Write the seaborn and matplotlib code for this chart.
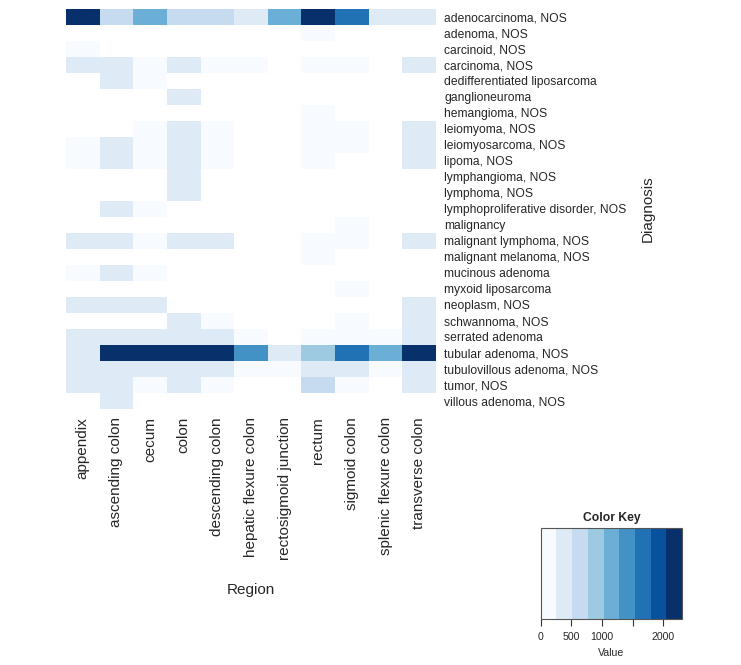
import numpy as np
import pandas as pd
import matplotlib
matplotlib.use("Agg")
import matplotlib.pyplot as plt
from matplotlib.colors import ListedColormap, BoundaryNorm
from matplotlib.cm import ScalarMappable
import seaborn as sns

N = np.nan

diagnoses = [
    "adenocarcinoma, NOS", "adenoma, NOS", "carcinoid, NOS", "carcinoma, NOS",
    "dedifferentiated liposarcoma", "ganglioneuroma", "hemangioma, NOS",
    "leiomyoma, NOS", "leiomyosarcoma, NOS", "lipoma, NOS", "lymphangioma, NOS",
    "lymphoma, NOS", "lymphoproliferative disorder, NOS", "malignancy",
    "malignant lymphoma, NOS", "malignant melanoma, NOS", "mucinous adenoma",
    "myxoid liposarcoma", "neoplasm, NOS", "schwannoma, NOS", "serrated adenoma",
    "tubular adenoma, NOS", "tubulovillous adenoma, NOS", "tumor, NOS",
    "villous adenoma, NOS",
]

regions = ["appendix", "ascending colon", "cecum", "colon", "descending colon",
           "hepatic flexure colon", "rectosigmoid junction", "rectum",
           "sigmoid colon", "splenic flexure colon", "transverse colon"]

appendix = [2260, N, 30, 300, N, N, N, N, 40, 35, N, N, N, N, 330, N, 45, N, 310, N, 320, 370, 340, 300, N]
ascending_colon = [610, N, N, 340, 280, N, N, N, 320, 310, N, N, 290, N, 350, N, 300, N, 290, N, 350, 2280, 390, 330, 280]
cecum = [1180, N, N, 60, 35, N, N, 50, 55, 45, N, N, 40, N, 50, N, 40, N, 300, N, 300, 2210, 360, 70, N]
colon = [590, N, N, 290, N, 270, N, 330, 350, 360, 300, 280, N, N, 340, N, N, N, N, 330, 380, 2300, 410, 310, N]
descending_colon = [640, N, N, 25, N, N, N, 35, 30, 40, N, N, N, N, 310, N, N, N, N, 50, 340, 2250, 380, 45, N]
hepatic_flexure_colon = [330, N, N, 20, N, N, N, N, N, N, N, N, N, N, N, N, N, N, N, N, 45, 1420, 60, N, N]
rectosigmoid_junction = [1120, N, N, N, N, N, N, N, N, N, N, N, N, N, N, N, N, N, N, N, N, 300, 50, N, N]
rectum = [2300, 45, N, 70, N, N, 40, 60, 65, 55, N, N, N, N, 60, 35, N, N, N, N, 55, 930, 420, 640, N]
sigmoid_colon = [1690, N, N, 55, N, N, N, 45, 50, N, N, N, N, 30, 45, N, N, 25, N, 40, 60, 1660, 400, 55, N]
splenic_flexure_colon = [350, N, N, N, N, N, N, N, N, N, N, N, N, N, N, N, N, N, N, N, 40, 1160, 55, N, N]
transverse_colon = [380, N, N, 310, N, N, N, 300, 290, 305, N, N, N, N, 300, N, N, N, 320, 290, 330, 2240, 370, 320, N]

key_ticks = [0, 500, 1000, 1500, 2000]
key_labels = ["0", "500", "1000", "", "2000"]

columns = [appendix, ascending_colon, cecum, colon, descending_colon,
           hepatic_flexure_colon, rectosigmoid_junction, rectum, sigmoid_colon,
           splenic_flexure_colon, transverse_colon]
df = pd.DataFrame(np.array(columns, dtype=float).T, index=diagnoses, columns=regions)

sns.set_style("white")
plt.rcParams["font.family"] = ["Liberation Sans", "DejaVu Sans"]

blues = ["#F7FBFF", "#DEEBF7", "#C6DBEF", "#9ECAE1", "#6BAED6",
         "#4292C6", "#2171B5", "#08519C", "#08306B"]
cmap = ListedColormap(blues)
bounds = np.linspace(0, 2304, 10)
norm = BoundaryNorm(bounds, cmap.N)

W, H = 741, 665
fig = plt.figure(figsize=(W / 100, H / 100), dpi=100)
ax = fig.add_axes([66 / W, 1 - 408.7 / H, 370 / W, 400 / H])

sns.heatmap(df, ax=ax, cmap=cmap, norm=norm, cbar=False, linewidths=0)
ax.set_xlabel("")
ax.set_ylabel("")
ax.yaxis.tick_right()
ax.set_yticks(np.arange(len(diagnoses)) + 0.5)
ax.set_yticklabels(diagnoses, rotation=0, fontsize=8.7, ha="left")
ax.set_xticks(np.arange(len(regions)) + 0.5)
ax.set_xticklabels(regions, rotation=90, fontsize=11)
ax.tick_params(axis="y", length=0, pad=5.8)
ax.tick_params(axis="x", length=0, pad=6)
for s in ax.spines.values():
    s.set_visible(False)

fig.text(251 / W, 1 - 590 / H, "Region", fontsize=11, ha="center", va="center")
fig.text(648 / W, 1 - 208.7 / H, "Diagnosis", fontsize=11, ha="center",
         va="center", rotation=90)

# Color key
cax = fig.add_axes([540.7 / W, 1 - 619.3 / H, 141.3 / W, 91 / H])
sm = ScalarMappable(norm=norm, cmap=cmap)
cb = fig.colorbar(sm, cax=cax, orientation="horizontal", ticks=key_ticks)
cb.ax.minorticks_off()
cb.ax.set_xticks(key_ticks)
cb.ax.set_xticklabels(key_labels, fontsize=7.6)
cb.ax.tick_params(axis="x", which="major", length=5, width=0.8, pad=4.5,
                  color="#333333", top=False)
cb.ax.tick_params(axis="x", which="minor", length=0, top=False, bottom=False)
cb.outline.set_linewidth(0.8)
cb.outline.set_edgecolor("#555555")
cb.ax.set_title("Color Key", fontsize=8.7, fontweight="bold", pad=5)
cb.ax.set_xlabel("Value", fontsize=7.6, labelpad=4)

fig.savefig("out.png", dpi=100)
